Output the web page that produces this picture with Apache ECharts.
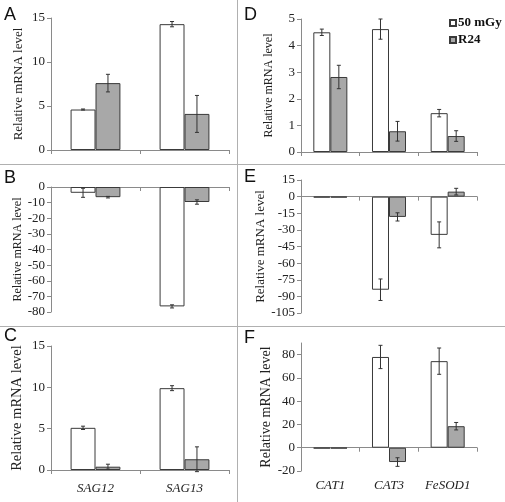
<!DOCTYPE html>
<html><head><meta charset="utf-8">
<script src="https://cdn.jsdelivr.net/npm/echarts@6/dist/echarts.min.js"></script>
<style>html,body{margin:0;padding:0;background:#fff}#c{width:505px;height:502px}</style>
</head><body><div id="c"></div>
<script>
// ---- data ----
const leftGenes = ['SAG12', 'SAG13'];
const rightGenes = ['CAT1', 'CAT3', 'FeSOD1'];
const seriesNames = ['50 mGy', 'R24'];

const A_50 = [4.6, 14.3];   const A_50err = [0.06, 0.3];
const A_R24 = [7.6, 4.1];   const A_R24err = [1.0, 2.1];

const B_50 = [-3.7, -76.4]; const B_50err = [2.9, 1.0];
const B_R24 = [-6.5, -9.6]; const B_R24err = [0.5, 1.4];

const C_50 = [5.1, 9.9];    const C_50err = [0.2, 0.3];
const C_R24 = [0.4, 1.3];   const C_R24err = [0.3, 1.5];

const D_50 = [4.5, 4.62, 1.46];  const D_50err = [0.12, 0.38, 0.14];
const D_R24 = [2.82, 0.78, 0.6]; const D_R24err = [0.44, 0.37, 0.2];

const E_50 = [-0.8, -84, -34.5]; const E_50err = [0, 9.7, 11.7];
const E_R24 = [-0.8, -18.3, 4.5]; const E_R24err = [0, 3.7, 3];

const F_50 = [-0.6, 78, 74.4];   const F_50err = [0, 10, 11.3];
const F_R24 = [-0.6, -12.3, 18.5]; const F_R24err = [0, 3.7, 3.2];

const yTicks = {
  A: {min: 0, max: 15, interval: 5},
  B: {min: -80, max: 0, interval: 10},
  C: {min: 0, max: 15, interval: 5},
  D: {min: 0, max: 5, interval: 1},
  E: {min: -105, max: 15, interval: 15},
  F: {min: -20, max: 90, interval: 20}
};

// ---- layout ----
const panels = [
  {key: 'A', cats: leftGenes, v50: A_50, e50: A_50err, vR: A_R24, eR: A_R24err,
   grid: {left: 51, top: 18, width: 178, height: 132}, gap: 0.44, nameSize: 13, letter: [4, 6]},
  {key: 'B', cats: leftGenes, v50: B_50, e50: B_50err, vR: B_R24, eR: B_R24err,
   grid: {left: 51, top: 187, width: 178, height: 125}, gap: 0.44, nameSize: 12, letter: [4, 169]},
  {key: 'C', cats: leftGenes, v50: C_50, e50: C_50err, vR: C_R24, eR: C_R24err,
   grid: {left: 51, top: 346, width: 178, height: 124}, gap: 0.44, nameSize: 14.5, letter: [4, 327]},
  {key: 'D', cats: rightGenes, v50: D_50, e50: D_50err, vR: D_R24, eR: D_R24err,
   grid: {left: 301, top: 19, width: 176, height: 133}, gap: 0.42, nameSize: 12, letter: [244, 6]},
  {key: 'E', cats: rightGenes, v50: E_50, e50: E_50err, vR: E_R24, eR: E_R24err,
   grid: {left: 301, top: 180, width: 176, height: 133}, gap: 0.42, nameSize: 13, letter: [244, 168]},
  {key: 'F', cats: rightGenes, v50: F_50, e50: F_50err, vR: F_R24, eR: F_R24err,
   grid: {left: 301, top: 343, width: 176, height: 128}, gap: 0.42, nameSize: 14, letter: [244, 329]}
];

const serif = 'Liberation Serif';
const axisGray = '#8a8a8a';
const barBorder = '#3a3a3a';
const grayFill = '#a8a8a8';

const grids = [], xAxes = [], yAxes = [], series = [], graphics = [];

panels.forEach((p, i) => {
  grids.push(Object.assign({containLabel: false}, p.grid));
  const t = yTicks[p.key];
  yAxes.push({
    type: 'value', gridIndex: i, min: t.min, max: t.max, interval: t.interval,
    name: 'Relative mRNA level', nameLocation: 'middle', nameGap: 26,
    nameTextStyle: {fontFamily: serif, fontSize: p.nameSize, color: '#222'},
    axisLine: {show: true, lineStyle: {color: axisGray}},
    axisTick: {show: true, length: 4, lineStyle: {color: axisGray}},
    axisLabel: {fontFamily: serif, fontSize: 13, color: '#222', margin: 6, showMaxLabel: p.key !== 'F'},
    splitLine: {show: false}
  });
  const mainX = xAxes.length;
  xAxes.push({
    type: 'category', gridIndex: i, data: p.cats,
    axisLine: {show: true, onZero: true, lineStyle: {color: axisGray}},
    axisTick: {show: true, length: 4, lineStyle: {color: axisGray}},
    axisLabel: {show: p.key === 'C', interval: 0, fontFamily: serif, fontStyle: 'italic', fontSize: 13, color: '#222', margin: 12},
    splitLine: {show: false}
  });
  if (p.key === 'F') {
    xAxes.push({
      type: 'category', gridIndex: i, data: p.cats, position: 'bottom',
      axisLine: {show: false, onZero: false}, axisTick: {show: false},
      axisLabel: {show: true, interval: 0, fontFamily: serif, fontStyle: 'italic', fontSize: 13, color: '#222', margin: 8},
      splitLine: {show: false}
    });
  }
  const gapStr = Math.round(p.gap * 100) + '%';
  series.push({
    type: 'bar', name: seriesNames[0], xAxisIndex: mainX, yAxisIndex: i, data: p.v50,
    barGap: '0%', barCategoryGap: gapStr,
    itemStyle: {color: '#ffffff', borderColor: barBorder, borderWidth: 1}
  });
  series.push({
    type: 'bar', name: seriesNames[1], xAxisIndex: mainX, yAxisIndex: i, data: p.vR,
    barGap: '0%', barCategoryGap: gapStr,
    itemStyle: {color: grayFill, borderColor: barBorder, borderWidth: 1}
  });
  const errData = [];
  p.v50.forEach((v, k) => errData.push([k, v, p.e50[k], -1]));
  p.vR.forEach((v, k) => errData.push([k, v, p.eR[k], 1]));
  const gap = p.gap;
  series.push({
    type: 'custom', name: 'err' + p.key, xAxisIndex: mainX, yAxisIndex: i, data: errData,
    encode: {x: 0, y: 1}, z: 10, silent: true,
    renderItem: function (params, api) {
      const cat = api.value(0), val = api.value(1), err = api.value(2), side = api.value(3);
      if (!err) return null;
      const catW = api.size([1, 0])[0];
      const barW = catW * (1 - gap) / 2;
      const c = api.coord([cat, val]);
      const x = c[0] + side * barW / 2;
      const y1 = api.coord([cat, val + err])[1];
      const y2 = api.coord([cat, val - err])[1];
      const st = {stroke: '#333', lineWidth: 1};
      return {type: 'group', children: [
        {type: 'line', shape: {x1: x, y1: y1, x2: x, y2: y2}, style: st},
        {type: 'line', shape: {x1: x - 2, y1: y1, x2: x + 2, y2: y1}, style: st},
        {type: 'line', shape: {x1: x - 2, y1: y2, x2: x + 2, y2: y2}, style: st}
      ]};
    }
  });
  graphics.push({type: 'text', left: p.letter[0], top: p.letter[1],
    style: {text: p.key, font: '18px "Liberation Sans"', fill: '#111'}});
});

// separators
const sep = {stroke: '#b0b0b0', lineWidth: 1};
graphics.push({type: 'line', shape: {x1: 0, y1: 164.5, x2: 505, y2: 164.5}, style: sep});
graphics.push({type: 'line', shape: {x1: 0, y1: 326.5, x2: 505, y2: 326.5}, style: sep});
graphics.push({type: 'line', shape: {x1: 237.5, y1: 0, x2: 237.5, y2: 502}, style: sep});

const chart = echarts.init(document.getElementById('c'), null, {renderer: 'canvas'});
chart.setOption({
  animation: false,
  backgroundColor: '#ffffff',
  grid: grids, xAxis: xAxes, yAxis: yAxes, series: series,
  legend: {
    data: seriesNames, orient: 'vertical', left: 444, top: 11,
    icon: 'rect', itemWidth: 6, itemHeight: 6, itemGap: 3,
    textStyle: {fontFamily: serif, fontWeight: 'bold', fontSize: 13, color: '#111', lineHeight: 14, padding: [0, 0, 0, -3]}
  },
  graphic: graphics
});
</script></body></html>
